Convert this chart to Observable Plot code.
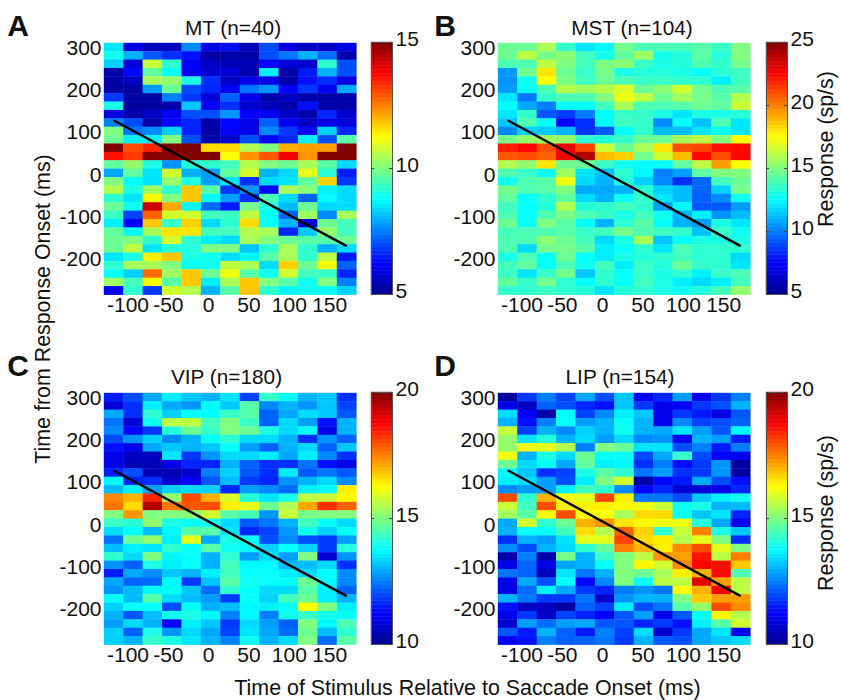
<!DOCTYPE html>
<html><head><meta charset="utf-8">
<script src="https://cdn.jsdelivr.net/npm/d3@7"></script>
<script src="https://cdn.jsdelivr.net/npm/@observablehq/plot@0.6"></script>
<style>
html,body{margin:0;padding:0;background:#fff}
#page{position:relative;width:841px;height:700px;overflow:hidden;font-family:"Liberation Sans",Arial,sans-serif;color:#111}
#page svg{position:absolute;overflow:visible}
.t{position:absolute;white-space:nowrap;font-size:21.4px;line-height:1}
.c{transform:translate(-50%,-50%)}
.r{transform:translate(-50%,-50%) rotate(-90deg)}
.l{font-weight:bold;font-size:30px}
.h{font-size:20.8px}
</style></head><body><div id="page"></div>
<script>
const mtRows=[
[8.5,5.9,5.5,5.6,7.6,6,6.4,5.4,7,5.9,5.6,5.6,6],
[8.9,8,7.1,6.7,6.4,5.3,5.3,5.3,7,7.4,8,7.3,5.3],
[8.3,5.8,10.7,9.2,6.2,5.6,5.4,5.4,6.2,5.8,5.7,9.2,7],
[5.3,6.3,9.7,8.8,6.1,5.7,5.8,5.4,8.6,5.3,6.5,8,7],
[5.3,5.6,10.4,10.2,9,6.7,5.6,6,6,5.3,6.4,6.7,5.9],
[5.2,5.2,7.8,9.8,7,6.6,6.1,7.4,7.7,6.2,6.8,6.1,7.9],
[6.8,5.2,5.2,7.5,6.8,5.8,7.2,6,5.3,5.6,5.3,5.3,5.3],
[9,5.2,5.2,5.3,8.2,6.1,6.7,5.7,5.5,5.3,6.4,5.3,5.3],
[5.9,5.3,5.6,6.1,7,7,7.7,6.2,6.1,5.6,5.3,6.6,5.7],
[7.5,7,5.3,6.2,6.6,5.3,6.3,6,7.2,6.1,5.6,6,5.8],
[10,7.4,7.6,8.3,6.6,5.3,6.2,6,7.6,6.8,6.2,8.3,6.6],
[9.8,8.6,8.6,10,7,5.3,5.7,7,6.3,6.6,8.6,7,9.6],
[15,13,13.4,15,15,11.6,11.6,10.5,10,12,12.2,12.2,15],
[13.6,13.2,14.9,14.9,15,15,11.2,12.3,12.9,13.9,12.3,15,15],
[9.7,10.2,9,7.7,9.1,9.2,9.4,10.5,10,9.8,10.4,9.6,8.4],
[7.9,9.7,8.5,10.8,8,7.8,9.7,10.8,8,8.4,11,9.2,6.5],
[10,8.8,8.5,10.2,9,7.8,8.5,6.7,8.4,8.5,9.7,11.7,6.8],
[10.5,9,10.3,9.2,11.8,9.6,6.8,7.7,6.2,10.4,10.1,8.6,8.4],
[9.2,8.5,11.3,10,11.8,8.7,7.8,6.7,9.5,8.4,7.2,8.7,8.4],
[9.8,8.9,14.2,12.1,8.7,7.3,6.5,9.9,9,8.1,9.8,8.4,8.4],
[9.3,6.9,12.8,10.8,10.8,9.4,9.3,10.6,8.8,7.2,10.3,7.6,10.4],
[8.6,6.2,11.8,9.3,11.7,8.4,9.2,11.6,8.8,8,5.8,9.8,9.4],
[9.7,8.7,10.4,11.5,11.5,9.4,9.4,10.5,10.4,6.6,8.2,10.2,9.4],
[9.8,10,9.2,10.8,9.2,8.6,8.4,10.4,10,9.8,9.6,9.6,9.8],
[9.8,10.6,8.5,9.1,9.1,10,10,8.2,9.2,10.4,9.2,8,8.4],
[8.5,9,11.4,11.8,9,8.9,8.4,8.7,9.6,10.4,9.2,10.6,6.5],
[9.2,10.4,10.4,10,8.8,8.9,10.6,10.4,8.4,11.7,9.8,11.2,7.2],
[8.8,8.3,12.7,10.3,11.8,9.8,11.1,9.6,8.9,10.8,9.4,9.3,6.6],
[10.3,9.4,11.2,9.6,11.8,8.6,10.4,11.8,10,9.6,8.9,10,7.5],
[6.2,9.2,6.8,10.8,10.5,8,9.6,11.8,9.2,8.7,8.9,8.8,8.3]];
const mstRows=[
[14.6,14.6,15.9,13.5,12,12.4,14.8,14,14,13.9,14.2,13.6,15],
[14.7,16.2,14.8,15.2,13.8,12.9,14.4,15.6,12.9,13.2,14.3,13.3,15],
[14,14,16.2,15,13.8,14.9,15.2,13.6,13,13.2,14,13.5,14.8],
[10.5,14.7,18,14.6,13.6,14.8,13,13.2,13.2,13,12.6,13.3,13.7],
[10.4,12.8,17.5,14.9,13.7,14.6,14,13.6,13.6,13.4,13.4,12.2,13.7],
[10.6,12.6,14,16,15.6,16,16.8,14.6,15.2,16.6,14.8,14,14.2],
[12,9.8,13.5,14,14,15,17.1,16.3,14.6,15.7,14.8,14.2,16],
[12.5,10.8,10,12.6,12.6,13.8,15.8,14,14,14.2,14.6,14.4,16.5],
[12,13.5,9.2,8.7,10,12.5,13.6,13.6,13,12,13,13,13.3],
[11.4,14,12.6,7.5,8.4,12.4,13.7,13.5,10.2,12.6,11.3,14,12],
[10.2,11.6,11.5,11,8.5,9.3,12.5,13.5,11.2,11.2,12,12.6,12],
[14.8,15.4,15.6,15.4,13.4,13.2,13.5,14.5,14.6,15.8,16.2,15,17.5],
[22,22.5,21,22.8,21.2,16.5,14.6,15.8,18,21,21.2,22.2,22.3],
[20.8,21,20.6,22.6,24,18.8,18.4,14.8,16.6,18.8,22.4,21,22.4],
[16,15.3,18,14.7,14.6,13.6,12.8,12.6,12.6,14.4,16.2,19.4,17.5],
[14,13.6,12.5,15.6,12,11.2,13.4,12.4,10,10.6,14.3,15,15],
[12.8,14,14.2,17.2,11.8,11,13.2,11.6,10.2,8.4,9.5,13.8,14.6],
[14.7,14,14.2,15,10.8,10.8,11,13.3,11.6,11.2,9.5,11.6,14.8],
[14.4,12.6,13.4,14.4,11.8,11,12.7,13.6,12,11.2,9.4,10.2,12.8],
[13.7,12.6,13.2,16,13.2,13.4,13.8,13.4,10.6,12.4,9.2,9.2,10.5],
[14,12.6,14,14.9,14,13.6,13,13.8,12.8,11,12.2,10.4,11.2],
[14.6,12.6,15,14.2,12.6,11,13.4,14.2,12.6,11,10.6,13,12],
[13.8,14,14,14.2,13.6,13.8,14.8,14,13.7,13.5,11.3,13.6,12.8],
[14,14,15.2,14.6,13.8,11.8,13,15.8,11.4,12.6,13,13,13],
[14,11.8,14.8,14.8,14.2,12.2,12.6,13.4,12,14,13.4,13.4,13.4],
[13,14,12.6,14.6,12.6,12.2,13,13.2,13.4,13.8,13.4,13.4,11.8],
[13.8,14.4,12.6,14,12.8,13.8,12.2,13.6,13.2,14.6,13.6,13.4,12],
[13.6,12,13.6,14.8,11.4,13.4,12.6,13.6,13,13.4,12.2,13.6,14],
[14.4,13.5,14.8,13.4,12.6,13.4,12.6,13.8,13,12.2,11.8,12.2,13.8],
[13.5,13.4,13.6,13.4,13.2,12,13.2,13.4,13,12.8,13.2,13.8,15.4]];
const vipRows=[
[11.5,12,12.9,13.6,13.2,13,13.5,11.9,14.3,13.8,13,13.2,11.7],
[10.8,11.7,13.6,12.9,12.7,13.7,13.2,14.6,12.6,13,12.7,13.2,11.9],
[12.9,11.7,14.2,13.3,13.8,13.8,14.3,14.6,12.2,12.9,13.4,13.2,12.1],
[12.4,10.8,13.9,15.6,15.6,14.4,15,14.3,12.2,13.4,12.8,11.4,13],
[12.6,11.2,11.8,14.1,14.8,14.3,15,14.8,14,13.4,13.8,11,13],
[12,12.7,13.3,12.6,13,13.8,14.2,13.4,13.4,13,11.7,12.7,12.2],
[11.4,11,12.9,13.2,13,13.2,13.8,12.8,12.2,13,13.4,12.2,13.2],
[11,10.6,10.6,13.5,11.8,12.7,13.4,13.4,13.6,12.9,13.6,12.6,11.7],
[11,10.4,10.4,11,11.6,11.6,13,12.2,11.7,11.7,12.4,11.4,11],
[11.6,12,10.4,10.4,10.7,12.5,13.3,12.1,11.7,13.6,12.1,12.4,12.1],
[13.7,11.6,11.7,10.7,11.2,12.1,13.1,11.8,11.6,12.7,13,13.4,12.6],
[13.1,13.6,12.8,13.3,13.4,13.3,11.6,12.8,12.6,12.3,13.6,13.7,16.4],
[17.4,17,18.4,15.2,18,17,15.9,14.1,13.5,14,15.6,15.7,16.3],
[17.6,16.6,19.5,17.6,17.9,18,16.4,16,14.8,15.5,17.1,18.3,17.8],
[15,17.3,15,15,15.1,15.8,14.6,14.4,12.7,15.7,14.9,15,15],
[14.3,14.1,15.2,14,13.8,13.9,13.4,12.1,12.4,13,14.4,13.8,13.4],
[13.4,13.8,13.1,13.7,14.6,14.6,13.5,11.6,11.9,12.7,13.9,13.3,13.8],
[12.4,14.8,15.2,13.6,16,12.9,14,13.8,12,12.6,12,11.8,12.8],
[13.1,13.6,13.5,14.2,13.8,14.6,13.9,13.7,13.3,13.8,13.3,11.8,14.1],
[14.2,13.4,15,13.7,13.8,13,14.2,12.8,13.4,12.8,15,10.8,12.7],
[12.7,12.2,14,13.6,13.8,13,14.4,13.7,13.7,13.1,13.1,13.4,11.7],
[11.5,12.9,12.6,13.2,13,13.6,14.4,13.8,13.8,13.6,13.4,13.8,12.6],
[12.9,12.2,12.3,13.7,11.8,13.2,14.6,13.9,13.8,13.8,14.8,13.7,12.6],
[12.7,13.1,13.7,13.8,13.2,12.3,14.2,13.8,13.4,13.4,14.6,13.6,12.2],
[13.8,13.1,14.6,13.4,13.1,12.8,11.8,13.8,13.3,14.4,14.8,13.6,13],
[13.3,13.8,13.8,12,13.8,13,13.1,13.7,13.6,13.8,16.2,15,13.6],
[13,12.1,13.1,13.9,14,13.7,12.5,13.7,12.5,13.9,14.3,13.9,13.8],
[12.8,13.4,13,11.2,13.6,13.2,11.8,13.4,12.8,12.2,15,13.7,14.5],
[13.3,12.2,14,12.7,13.4,12.9,11.9,13.5,12.9,12.3,14.8,13.1,14.2],
[13.3,13,14.3,14,13.5,13,12.5,13.9,13,13.4,15,12.3,14.6]];
const lipRows=[
[10.2,11.8,12.5,11.9,12.9,12,13.2,11.2,11.6,12.8,11.1,11.8,12.5],
[11,10.5,12.2,12,11.6,11.4,13.2,11.8,11,11.2,11.8,12,13],
[13.4,11.2,10.3,13.8,11.9,12.6,13.6,13.2,11,11.8,11.5,10.9,12.1],
[13,11.4,12.5,13.8,12.8,13,13.8,13,11,12.6,11.9,12,12.2],
[15.7,11.9,13,12.6,13.3,13,13.9,13,12.9,13.5,12.8,12.1,13.7],
[15.2,13.5,14.1,13,13.4,12.8,13.4,12.6,12.7,11.1,13,12.8,11.5],
[15.2,16.1,16,15.5,12.5,15,14.8,13.5,13.5,12,12.5,11.5,12.5],
[16.1,13,14,13.4,14.8,13.8,13.8,12,12.9,14.3,12,11.2,11.1],
[14.8,13.4,13.8,12.9,14.7,13.6,13.7,11.7,12.5,11.4,11.8,12.7,10.2],
[13.7,13.2,11.7,11.9,14,14.6,14.2,12.4,12.8,11.7,11.8,12.7,10.2],
[13.6,13.4,12.8,12,13.6,15,15.8,10.3,11.3,11.5,12.9,12,11.4],
[12.6,12.8,12.8,13.6,14.4,14.2,12.6,11.2,11.6,10.8,10.8,11,11.6],
[18,14.2,17,16.2,16,18.1,16.4,12.4,12.4,12,13.2,13.6,13.9],
[15.7,14.4,18,16.4,16.4,16.4,16.3,16.1,15.7,13.9,14,13,13.1],
[15.3,14.6,16.3,18,16.2,16.2,15.4,16.6,16.6,13.8,13.2,13.5,11.6],
[12.9,15.8,14.2,14.8,17,17.3,16.5,16.3,16.1,16.1,14.1,12.9,11],
[13,13.8,13.8,14.4,16.6,15.5,17.8,16.7,14.2,15.7,17.5,14,13.2],
[11.7,13,12.8,13.5,16,16,18.1,16.6,16.4,15.5,16,15,11.7],
[12.6,12,13,13.4,14.2,14.7,17.5,17,16.4,17.4,18,16,15],
[10.3,12.5,10.3,14.9,13,14.3,15,15.6,17.3,17.2,18.6,15.6,17.5],
[11,12.2,11,12.9,13,13.8,15,16.3,15.8,17.4,18.7,18.6,16.8],
[12.4,12.2,10.5,13.5,12.4,13,15,14.8,15.4,16.4,17,18.7,14.5],
[11,12.9,12,13.8,11.2,12.6,15,13.8,15.6,15.6,19,17.2,15.6],
[11,12.3,13.6,12.9,11.8,11.6,12.5,12.7,12.4,16.2,17,18.8,15.6],
[13,12.4,11.8,11.8,12.4,10.7,12.7,13,13,15,16.8,17.2,17.2],
[11.4,10.6,10.6,10.2,12.2,11.9,13.6,12,12.4,14.6,15.2,18,17.4],
[11,11.8,10.6,11.9,11.6,11.2,12.1,12.8,11,12.1,13.8,16.3,15.5],
[10.7,12.8,12.3,12.8,12.9,12.1,12.1,11.6,11.8,11.4,13.6,14.6,15.8],
[12.1,11.5,13,12.2,11.5,12.5,11.9,13.4,10.7,11.8,12.9,13.5,11.1],
[11.2,11.4,12.5,12.2,12.2,12.4,11.8,13,12.1,12,12.9,13.2,13.4]];
const xTicks=[-100,-50,0,50,100,150];
const yTicks=[300,200,100,0,-100,-200];
const saccadeLine=[{x:-116.7,y:128.4},{x:170,y:-168}];
const xDomain=[-129.1,183.7], yDomain=[-285.7,311.9];
const binX=(xDomain[1]-xDomain[0])/13, binY=(yDomain[1]-yDomain[0])/30;
const jetStops=[0,.125,.375,.625,.875,1];
const jetColors=["#000090","#0000ff","#00ffff","#ffff00","#ff0000","#800000"];
const font='"Liberation Sans",Arial,sans-serif';
const tickFont=21;
const page=document.getElementById("page");
function colorOpt(lo,hi){return {type:"linear",domain:jetStops.map(t=>lo+t*(hi-lo)),range:jetColors,clamp:true};}
function place(svg,left,top){svg.style.left=left+"px";svg.style.top=top+"px";page.appendChild(svg);}
function panel(rows,lo,hi,left,top){
  const w=252.4,h=251.7,mL=70,mT=10,mB=30,mR=5;
  const cells=rows.flatMap((r,j)=>r.map((v,i)=>({x1:xDomain[0]+i*binX,x2:xDomain[0]+(i+1)*binX,y1:yDomain[1]-j*binY,y2:yDomain[1]-(j+1)*binY,v})));
  const svg=Plot.plot({width:w+mL+mR,height:h+mT+mB,marginLeft:mL,marginRight:mR,marginTop:mT,marginBottom:mB,
    style:{background:"transparent",fontFamily:font,fontSize:tickFont+"px",color:"#111"},
    x:{domain:xDomain,label:null},y:{domain:yDomain,label:null},color:colorOpt(lo,hi),
    marks:[
      Plot.rect(cells,{x1:"x1",x2:"x2",y1:"y1",y2:"y2",fill:"v",inset:-0.2,imageFilter:"blur(0.6px)"}),
      Plot.line(saccadeLine,{x:"x",y:"y",stroke:"#000",strokeWidth:2.4}),
      Plot.axisX({ticks:xTicks,tickSize:0,tickPadding:2,tickFormat:String,label:null,fontSize:tickFont}),
      Plot.axisY({ticks:yTicks,tickSize:0,tickPadding:3,tickFormat:String,label:null,fontSize:tickFont})
    ]});
  place(svg,left-mL,top-mT);
}
function colorbar(lo,hi,ticks,left,top,height){
  const w=21,mL=5,mR=50,mT=12,mB=12;
  const n=64, step=(hi-lo)/n;
  const levels=d3.range(n).map(i=>lo+i*step);
  const svg=Plot.plot({width:w+mL+mR,height:height+mT+mB,marginLeft:mL,marginRight:mR,marginTop:mT,marginBottom:mB,
    style:{background:"transparent",fontFamily:font,fontSize:tickFont+"px",color:"#111"},
    y:{domain:[lo,hi],label:null},color:colorOpt(lo,hi),
    marks:[
      Plot.rect(levels,{y1:d=>d,y2:d=>d+step,fill:d=>d+step/2,inset:-0.2}),
      Plot.frame({stroke:"#555",strokeWidth:1}),
      Plot.tickY(ticks,{y:d=>d,stroke:"#444",insetRight:w-3}),
      Plot.tickY(ticks,{y:d=>d,stroke:"#444",insetLeft:w-3}),
      Plot.axisY({anchor:"right",ticks,tickSize:0,tickPadding:3,tickFormat:String,label:null,fontSize:tickFont,dy:-3.5})
    ]});
  place(svg,left-mL,top-mT);
}
function text(s,x,y,cls){const d=document.createElement("div");d.className="t "+cls;d.textContent=s;d.style.left=x+"px";d.style.top=y+"px";page.appendChild(d);}
panel(mtRows,5,15,104.3,43.3);
panel(mstRows,5,25,498.3,43.3);
panel(vipRows,10,20,104.3,393.3);
panel(lipRows,10,20,498.3,393.3);
colorbar(5,15,[5,10,15],371,41.7,252);
colorbar(5,25,[5,10,15,20,25],766,41.7,252);
colorbar(10,20,[10,15,20],371,392,252);
colorbar(10,20,[10,15,20],766,392,252);
text("MT (n=40)",233,28,"c h");
text("MST (n=104)",632,28,"c h");
text("VIP (n=180)",226.5,377,"c h");
text("LIP (n=154)",620,377,"c h");
text("A",18,26,"c l");
text("B",445,26,"c l");
text("C",18,366,"c l");
text("D",445,366,"c l");
text("Time from Response Onset (ms)",44,309,"r");
text("Time of Stimulus Relative to Saccade Onset (ms)",467.5,689,"c");
text("Response (sp/s)",827,149,"r");
text("Response (sp/s)",827,512.5,"r");
</script></body></html>
